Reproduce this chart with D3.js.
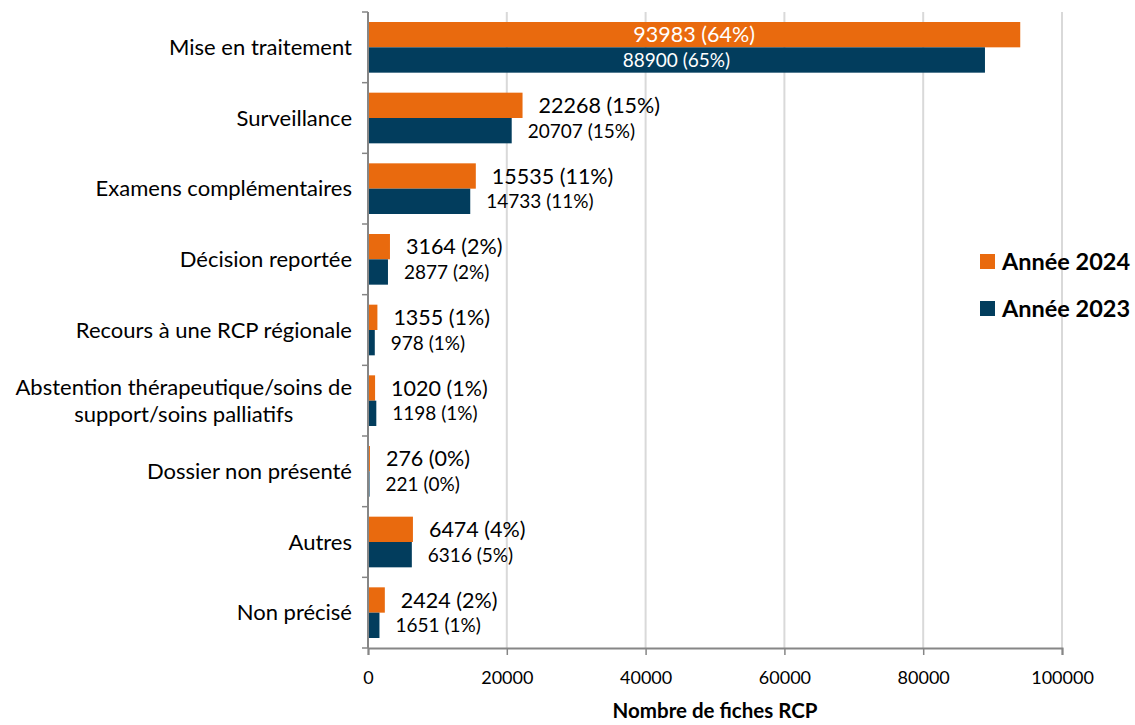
<!DOCTYPE html>
<html>
<head>
<meta charset="utf-8">
<script src="https://cdn.jsdelivr.net/npm/d3@7"></script>
<style>
  body { margin: 0; background: #fff; }
  text { font-family: Lato, "Open Sans", sans-serif; }
</style>
</head>
<body>
<div id="chart"></div>
<script>
var categories = ["Mise en traitement", "Surveillance", "Examens complémentaires", "Décision reportée",
  "Recours à une RCP régionale", "Abstention thérapeutique/soins de|support/soins palliatifs",
  "Dossier non présenté", "Autres", "Non précisé"];
var values2024 = [93983, 22268, 15535, 3164, 1355, 1020, 276, 6474, 2424];
var pct2024 = [64, 15, 11, 2, 1, 1, 0, 4, 2];
var values2023 = [88900, 20707, 14733, 2877, 978, 1198, 221, 6316, 1651];
var pct2023 = [65, 15, 11, 2, 1, 1, 0, 5, 1];
var xTicks = [0, 20000, 40000, 60000, 80000, 100000];

var series = [
  {key: "2024", name: "Année 2024", values: values2024, pct: pct2024, color: "#E96A0E", fs: 21.5},
  {key: "2023", name: "Année 2023", values: values2023, pct: pct2023, color: "#023D5D", fs: 19}
];

var W = 1135, H = 725,
    margin = {top: 12, right: 73, bottom: 77, left: 368},
    width = W - margin.left - margin.right,
    height = H - margin.top - margin.bottom;

var svg = d3.select("#chart").append("svg")
    .attr("width", W).attr("height", H);
var g = svg.append("g").attr("transform", "translate(" + margin.left + "," + margin.top + ")");

var x = d3.scaleLinear().domain([0, 100000]).range([0, width]);
var y = d3.scaleBand().domain(d3.range(categories.length)).range([0, height]).paddingInner(0).paddingOuter(0);
var inner = d3.scaleBand().domain(["2024", "2023"]).range([10, y.bandwidth() - 10]);

// gridlines
g.selectAll(".grid").data(xTicks.slice(1)).enter().append("line")
    .attr("x1", d => x(d)).attr("x2", d => x(d))
    .attr("y1", 0).attr("y2", height)
    .attr("stroke", "#d9d9d9").attr("stroke-width", 2);

// bars + value labels
series.forEach(function(s) {
  g.selectAll(".bar" + s.key).data(s.values).enter().append("rect")
      .attr("x", x(0))
      .attr("y", (d, i) => y(i) + inner(s.key))
      .attr("width", d => x(d) - x(0))
      .attr("height", inner.bandwidth())
      .attr("fill", s.color);

  var big = d => x(d) > width * 0.5;
  g.selectAll(".lab" + s.key).data(s.values).enter().append("text")
      .attr("x", d => big(d) ? x(d) / 2 : x(d) + 16)
      .attr("y", (d, i) => y(i) + inner(s.key) + inner.bandwidth() / 2)
      .attr("dy", "0.36em")
      .attr("text-anchor", d => big(d) ? "middle" : "start")
      .attr("fill", d => big(d) ? "#fff" : "#000")
      .style("font-size", s.fs + "px")
      .text((d, i) => d + " (" + s.pct[i] + "%)");
});

// x axis
var xAxis = g.append("g")
    .attr("transform", "translate(0," + height + ")")
    .call(d3.axisBottom(x).tickValues(xTicks).tickFormat(d3.format("d")).tickSizeOuter(0).tickSize(7).tickPadding(16));
xAxis.select(".domain").attr("stroke", "#868686").attr("stroke-width", 2);
xAxis.selectAll(".tick line").attr("stroke", "#868686").attr("stroke-width", 1.5);
xAxis.selectAll(".tick text").style("font-size", "18px").attr("fill", "#000")
    .style("font-family", "Lato, sans-serif");

// y axis
var yAxis = g.append("g");
yAxis.append("line").attr("x1", 0).attr("x2", 0).attr("y1", 0).attr("y2", height)
    .attr("stroke", "#868686").attr("stroke-width", 2);
yAxis.selectAll(".ytick").data(d3.range(categories.length + 1)).enter().append("line")
    .attr("x1", -6).attr("x2", 0)
    .attr("y1", d => d * y.step()).attr("y2", d => d * y.step())
    .attr("stroke", "#868686").attr("stroke-width", 1.5);

// category labels (centred block, right edge near axis)
categories.forEach(function(c, i) {
  var lines = c.split("|");
  var t = g.append("text")
      .attr("text-anchor", "middle")
      .style("font-size", "22px")
      .attr("fill", "#000");
  var lh = 27;
  var y0 = y(i) + y.bandwidth() / 2 - (lines.length - 1) * lh / 2;
  lines.forEach(function(l, k) {
    t.append("tspan").attr("y", y0 + k * lh).attr("dy", "0.35em").text(l);
  });
  var maxW = 0;
  t.selectAll("tspan").each(function() { maxW = Math.max(maxW, this.getComputedTextLength()); });
  t.selectAll("tspan").attr("x", -16 - maxW / 2);
});

// x axis title
svg.append("text")
    .attr("x", margin.left + width / 2).attr("y", 711)
    .attr("dy", "0.35em")
    .attr("text-anchor", "middle")
    .style("font-size", "20.5px").style("font-weight", "bold")
    .text("Nombre de fiches RCP");

// legend
var legend = svg.append("g").attr("transform", "translate(980,254)");
series.forEach(function(s, i) {
  var lg = legend.append("g").attr("transform", "translate(0," + i * 47 + ")");
  lg.append("rect").attr("width", 15).attr("height", 15).attr("fill", s.color);
  lg.append("text").attr("x", 22).attr("y", 8).attr("dy", "0.36em")
      .style("font-size", "23.5px").style("font-weight", "bold")
      .text(s.name);
});
</script>
</body>
</html>
